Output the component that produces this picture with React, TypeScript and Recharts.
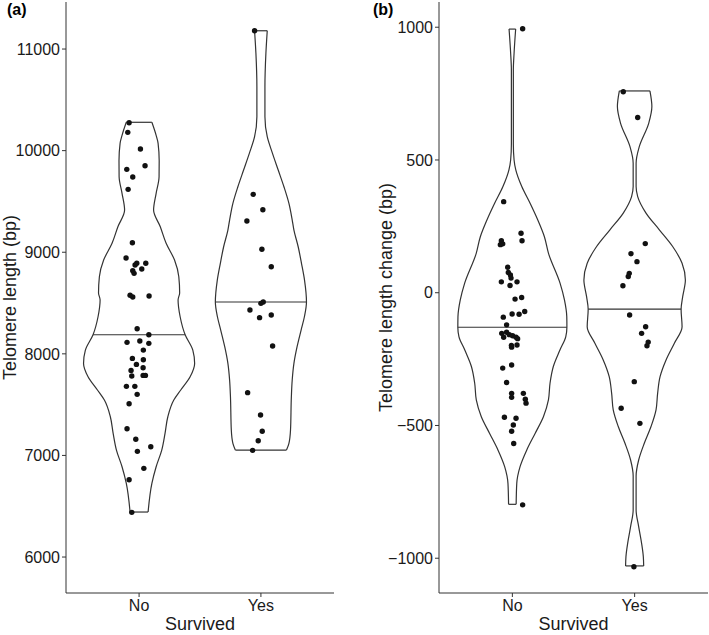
import React from 'react'
import { ScatterChart, Scatter, XAxis, YAxis, ReferenceLine } from 'recharts'

const survived = ['No', 'Yes']

// (a) telomere length: violin outline, level (bp) and half width (x units)
const lengthNoLevels = [10279, 10150, 10072, 9900, 9743, 9580, 9415, 9251, 9088, 8923, 8759, 8600, 8530, 8365, 8188, 8037, 7906, 7775, 7644, 7545, 7381, 7218, 7053, 6889, 6725, 6443]
const lengthNoHalf = [0.105, 0.14, 0.156, 0.165, 0.164, 0.14, 0.119, 0.174, 0.222, 0.291, 0.326, 0.333, 0.32, 0.337, 0.378, 0.441, 0.456, 0.419, 0.342, 0.285, 0.236, 0.213, 0.186, 0.14, 0.105, 0.074]
const lengthYesLevels = [11180, 10958, 10629, 10334, 10137, 9973, 9809, 9645, 9481, 9317, 9218, 9054, 8891, 8726, 8510, 8365, 8234, 8070, 7906, 7742, 7578, 7250, 7119, 7053]
const lengthYesHalf = [0.052, 0.041, 0.033, 0.033, 0.052, 0.095, 0.142, 0.189, 0.23, 0.257, 0.271, 0.306, 0.333, 0.358, 0.374, 0.357, 0.33, 0.297, 0.271, 0.257, 0.25, 0.243, 0.23, 0.21]
const lengthMedians = [8188, 8510]

// (a) individual birds
const lengthNo = [10275, 10180, 10016, 9816, 9851, 9740, 9619, 9094, 8943, 8891, 8891, 8874, 8835, 8818, 8792, 8576, 8559, 8569, 8247, 8188, 8113, 8126, 8103, 8037, 7955, 7942, 7896, 7837, 7863, 7782, 7788, 7788, 7680, 7680, 7601, 7509, 7263, 7159, 7086, 7040, 6873, 6761, 6440]
const lengthNoJitter = [-0.082, -0.093, 0.011, -0.101, 0.049, -0.052, -0.09, -0.055, -0.107, 0.055, -0.019, -0.033, 0.022, -0.052, -0.041, -0.074, -0.052, 0.082, -0.016, 0.08, -0.099, 0.006, 0.08, 0.035, -0.055, 0.035, -0.022, -0.066, 0.033, -0.06, 0.033, 0.052, -0.104, -0.035, -0.016, -0.082, -0.099, -0.027, 0.096, -0.014, 0.039, -0.082, -0.06]
const lengthYes = [11180, 9570, 9418, 9307, 9029, 8857, 8510, 8497, 8431, 8356, 8382, 8077, 7618, 7398, 7238, 7145, 7050]
const lengthYesJitter = [-0.052, -0.063, 0.016, -0.115, 0.008, 0.085, 0.019, 0, -0.09, -0.011, 0.085, 0.096, -0.109, -0.003, 0.011, -0.022, -0.068]

// (b) telomere length change
const changeNoLevels = [993, 902, 839, 700, 560, 500, 463, 400, 337, 274, 211, 149, 36, -27, -90, -130, -165, -215, -278, -341, -404, -467, -530, -592, -655, -718, -797]
const changeNoHalf = [0.027, 0.014, 0.008, 0.008, 0.008, 0.014, 0.028, 0.077, 0.145, 0.208, 0.262, 0.295, 0.39, 0.426, 0.445, 0.446, 0.437, 0.39, 0.335, 0.308, 0.295, 0.254, 0.186, 0.118, 0.063, 0.036, 0.031]
const changeYesLevels = [760, 701, 638, 550, 488, 400, 362, 300, 237, 174, 111, 48, -15, -62, -128, -190, -253, -316, -379, -441, -504, -567, -630, -690, -818, -881, -944, -994, -1029]
const changeYesHalf = [0.125, 0.141, 0.115, 0.038, 0.012, 0.012, 0.025, 0.093, 0.202, 0.311, 0.388, 0.415, 0.393, 0.38, 0.388, 0.325, 0.257, 0.208, 0.188, 0.175, 0.134, 0.079, 0.033, 0.012, 0.012, 0.033, 0.057, 0.071, 0.074]
const changeMedians = [-130, -62]

const changeNo = [994, 343, 224, 196, 196, 184, 181, 96, 76, 67, 55, 41, 41, 27, -18, -24, -92, -80, -81, -71, -121, -153, -168, -149, -158, -162, -168, -173, -199, -205, -197, -284, -272, -338, -379, -394, -379, -401, -416, -469, -473, -498, -522, -568, -799]
const changeNoJitter = [0.084, -0.071, 0.071, 0.079, -0.09, -0.079, -0.098, -0.038, -0.033, -0.016, -0.011, -0.09, 0.038, -0.019, 0.076, 0.022, -0.074, -0.002, 0.055, 0.101, -0.047, -0.087, -0.071, -0.047, -0.025, 0.002, 0.03, 0.043, -0.008, -0.006, 0.038, -0.079, -0.006, -0.047, -0.006, -0.006, 0.09, 0.106, 0.112, -0.065, 0.03, 0.008, -0.006, 0.011, 0.084]
const changeYes = [757, 660, 185, 147, 117, 73, 61, 26, -84, -128, -153, -186, -200, -335, -435, -492, -1032]
const changeYesJitter = [-0.093, 0.025, 0.087, -0.03, 0.019, -0.044, -0.052, -0.096, -0.041, 0.09, 0.057, 0.111, 0.101, -0.003, -0.11, 0.043, -0.006]

const lengthTicks = [6000, 7000, 8000, 9000, 10000, 11000]
const changeTicks = [-1000, -500, 0, 500, 1000]

const INK = '#333333'
const TEXT = '#1a1a1a'
const FONT = '"Liberation Sans", Arial, Helvetica, sans-serif'

const noDot = () => <g />
const dot = (p: any) => <circle cx={p.cx} cy={p.cy} r={2.7} fill="#111" />

function halfAt(levels: number[], half: number[], v: number) {
  for (let i = 0; i < levels.length - 1; i++) {
    if (v <= levels[i] && v >= levels[i + 1]) {
      const t = (levels[i] - v) / (levels[i] - levels[i + 1])
      return half[i] + t * (half[i + 1] - half[i])
    }
  }
  return half[0]
}

function violin(key: string, center: number, levels: number[], half: number[], median: number) {
  const left = levels.map((y, i) => ({ x: center - half[i], y }))
  const right = levels.map((y, i) => ({ x: center + half[i], y }))
  const last = levels.length - 1
  const wm = halfAt(levels, half, median)
  const line = { stroke: INK, strokeWidth: 1.2 }
  return (
    <React.Fragment key={key}>
      <Scatter data={left} line={line} lineJointType="monotoneY" shape={noDot} isAnimationActive={false} />
      <Scatter data={right} line={line} lineJointType="monotoneY" shape={noDot} isAnimationActive={false} />
      <ReferenceLine segment={[{ x: center - half[0], y: levels[0] }, { x: center + half[0], y: levels[0] }]} stroke={INK} strokeWidth={1.2} />
      <ReferenceLine segment={[{ x: center - half[last], y: levels[last] }, { x: center + half[last], y: levels[last] }]} stroke={INK} strokeWidth={1.2} />
      <ReferenceLine segment={[{ x: center - wm, y: median }, { x: center + wm, y: median }]} stroke={INK} strokeWidth={1.2} />
    </React.Fragment>
  )
}

function points(values: number[], jitter: number[], center: number) {
  return values.map((y, i) => ({ x: center + jitter[i], y }))
}

const minus = (v: number) => (v < 0 ? '\u2212' + Math.abs(v) : String(v))

interface PanelProps {
  width: number
  axisWidth: number
  marginRight: number
  domain: [number, number]
  ticks: number[]
  yTitle: string
  titleOffset: number
  formatTick?: (v: number) => string
  children: React.ReactNode
}

function Panel({ width, axisWidth, marginRight, domain, ticks, yTitle, titleOffset, formatTick, children }: PanelProps) {
  return (
    <ScatterChart width={width} height={635} margin={{ top: 2, right: marginRight, bottom: 0, left: 0 }}>
      <XAxis
        type="number"
        dataKey="x"
        domain={[0.4, 2.6]}
        ticks={[1, 2]}
        tickFormatter={(v) => survived[v - 1]}
        allowDataOverflow
        height={42}
        tickSize={4}
        tickMargin={3}
        stroke={INK}
        tick={{ fill: TEXT, fontSize: 16 }}
        label={{ value: 'Survived', position: 'insideBottom', offset: 5, fill: TEXT, fontSize: 18 }}
      />
      <YAxis
        type="number"
        dataKey="y"
        domain={domain}
        ticks={ticks}
        allowDataOverflow
        width={axisWidth}
        tickSize={4}
        tickMargin={2}
        stroke={INK}
        tick={{ fill: TEXT, fontSize: 16 }}
        tickFormatter={formatTick}
        label={{ value: yTitle, angle: -90, position: 'insideLeft', offset: titleOffset, fill: TEXT, fontSize: 18, style: { textAnchor: 'middle' } }}
      />
      {children}
    </ScatterChart>
  )
}

const tagStyle: React.CSSProperties = { position: 'absolute', top: 2, fontWeight: 'bold', fontSize: 16, lineHeight: '16px', color: '#000' }

export default function App() {
  return (
    <div style={{ position: 'absolute', left: 0, top: 0, width: 709, height: 635, background: '#fff', fontFamily: FONT }}>
      <div style={{ position: 'absolute', left: 0, top: 0 }}>
        <Panel width={354} axisWidth={66} marginRight={20} domain={[5646, 11463]} ticks={lengthTicks} yTitle="Telomere length (bp)" titleOffset={10}>
          {violin('a-no', 1, lengthNoLevels, lengthNoHalf, lengthMedians[0])}
          {violin('a-yes', 2, lengthYesLevels, lengthYesHalf, lengthMedians[1])}
          <Scatter data={points(lengthNo, lengthNoJitter, 1)} shape={dot} isAnimationActive={false} />
          <Scatter data={points(lengthYes, lengthYesJitter, 2)} shape={dot} isAnimationActive={false} />
        </Panel>
      </div>
      <div style={{ position: 'absolute', left: 354, top: 0 }}>
        <Panel width={355} axisWidth={85} marginRight={1} domain={[-1131, 1095]} ticks={changeTicks} yTitle="Telomere length change (bp)" titleOffset={32} formatTick={minus}>
          {violin('b-no', 1, changeNoLevels, changeNoHalf, changeMedians[0])}
          {violin('b-yes', 2, changeYesLevels, changeYesHalf, changeMedians[1])}
          <Scatter data={points(changeNo, changeNoJitter, 1)} shape={dot} isAnimationActive={false} />
          <Scatter data={points(changeYes, changeYesJitter, 2)} shape={dot} isAnimationActive={false} />
        </Panel>
      </div>
      <div style={{ ...tagStyle, left: 7 }}>(a)</div>
      <div style={{ ...tagStyle, left: 373 }}>(b)</div>
    </div>
  )
}
